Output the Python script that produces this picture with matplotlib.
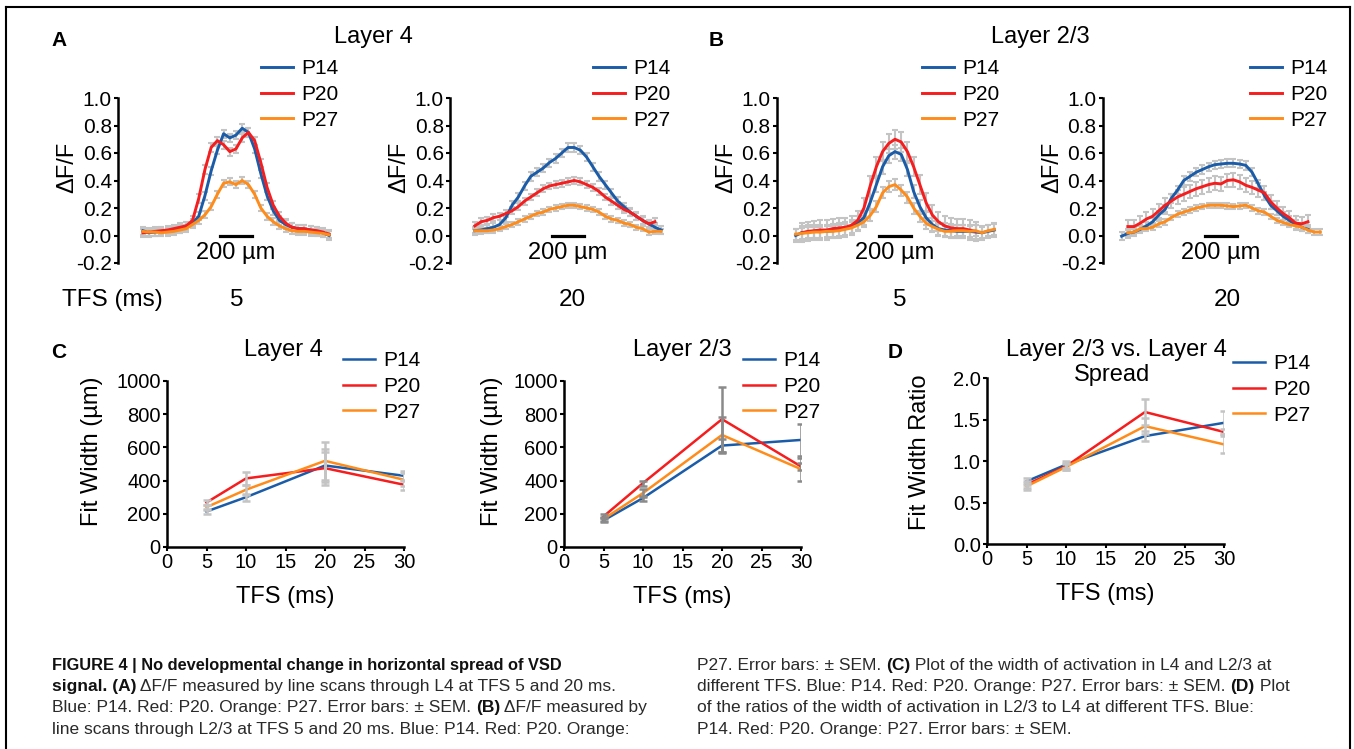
import numpy as np
import matplotlib
matplotlib.use("Agg")
from matplotlib import pyplot as plt
from matplotlib import font_manager
from matplotlib.lines import Line2D

W, H = 1354, 749

names = {f.name for f in font_manager.fontManager.ttflist}
SANS = 'Liberation Sans' if 'Liberation Sans' in names else 'DejaVu Sans'
NARROW = 'Liberation Sans Narrow' if 'Liberation Sans Narrow' in names else SANS

plt.rcParams['font.family'] = [SANS, 'DejaVu Sans']
plt.rcParams['axes.unicode_minus'] = False

#--- data -------------------------------------------------------------
ages = ['P14', 'P20', 'P27']
COLORS = ['#1b5ca8', '#f51d1d', '#ff8c1a']

# line scan positions (um), 0 = centre of the scale bar
pos_A = np.arange(-600, 601, 40)
pos_B = np.arange(-640, 641, 40)
nan = np.nan

# A: layer 4, TFS 5 ms
l4_tfs5_p14 = [0.035, 0.02, 0.025, 0.03, 0.035, 0.04, 0.05, 0.07, 0.09, 0.14,
               0.29, 0.47, 0.62, 0.74, 0.71, 0.73, 0.78, 0.75, 0.63, 0.45,
               0.29, 0.18, 0.11, 0.08, 0.06, 0.05, 0.045, 0.04, 0.03, 0.02, 0.0]
l4_tfs5_p20 = [0.02, 0.025, 0.03, 0.035, 0.04, 0.05, 0.06, 0.07, 0.11, 0.27,
               0.48, 0.64, 0.69, 0.66, 0.61, 0.63, 0.71, 0.75, 0.69, 0.53,
               0.35, 0.22, 0.14, 0.09, 0.06, 0.05, 0.05, 0.04, 0.035, 0.025, 0.01]
l4_tfs5_p27 = [0.03, 0.025, 0.025, 0.02, 0.025, 0.03, 0.04, 0.05, 0.08, 0.11,
               0.15, 0.21, 0.30, 0.38, 0.39, 0.37, 0.40, 0.37, 0.30, 0.20,
               0.14, 0.10, 0.07, 0.05, 0.035, 0.03, 0.03, 0.025, 0.02, 0.015, 0.005]
# A: layer 4, TFS 20 ms
l4_tfs20_p14 = [0.035, 0.04, 0.05, 0.06, 0.08, 0.13, 0.22, 0.28, 0.36, 0.43,
                0.46, 0.49, 0.53, 0.56, 0.60, 0.64, 0.64, 0.62, 0.57, 0.50,
                0.43, 0.37, 0.31, 0.25, 0.21, 0.17, 0.14, 0.11, 0.085, 0.06, 0.04]
l4_tfs20_p20 = [0.07, 0.10, 0.11, 0.13, 0.14, 0.16, 0.18, 0.21, 0.25, 0.28,
                0.31, 0.34, 0.36, 0.37, 0.38, 0.39, 0.40, 0.39, 0.37, 0.35,
                0.32, 0.28, 0.25, 0.22, 0.19, 0.17, 0.14, 0.11, 0.085, 0.10, nan]
l4_tfs20_p27 = [0.035, 0.035, 0.035, 0.04, 0.05, 0.065, 0.08, 0.10, 0.12, 0.14,
                0.16, 0.17, 0.19, 0.20, 0.21, 0.22, 0.22, 0.21, 0.20, 0.19,
                0.17, 0.14, 0.12, 0.11, 0.09, 0.08, 0.06, 0.05, 0.025, 0.03, 0.03]
# B: layer 2/3, TFS 5 ms
l23_tfs5_p14 = [0.0, 0.02, 0.025, 0.03, 0.03, 0.03, 0.035, 0.04, 0.05, 0.065,
                0.09, 0.13, 0.24, 0.37, 0.50, 0.58, 0.61, 0.59, 0.48, 0.32,
                0.21, 0.13, 0.08, 0.05, 0.04, 0.035, 0.03, 0.03, 0.03, 0.025,
                0.02, 0.03, 0.04]
l23_tfs5_p20 = [nan, 0.02, 0.03, 0.035, 0.04, 0.04, 0.05, 0.055, 0.06, 0.075,
                0.11, 0.20, 0.36, 0.50, 0.61, 0.67, 0.70, 0.68, 0.61, 0.50,
                0.37, 0.24, 0.15, 0.10, 0.07, 0.055, 0.05, 0.05, 0.04, 0.03,
                nan, nan, nan]
l23_tfs5_p27 = [0.01, 0.015, 0.02, 0.025, 0.025, 0.03, 0.03, 0.035, 0.045, 0.055,
                0.075, 0.10, 0.145, 0.21, 0.31, 0.355, 0.37, 0.33, 0.28, 0.20,
                0.14, 0.09, 0.065, 0.045, 0.03, 0.03, 0.035, 0.035, 0.03, 0.035,
                0.02, 0.035, 0.045]
# B: layer 2/3, TFS 20 ms
l23_tfs20_p14 = [-0.005, 0.015, 0.025, 0.045, 0.07, 0.10, 0.15, 0.19, 0.27, 0.33,
                 0.40, 0.43, 0.46, 0.48, 0.50, 0.515, 0.52, 0.525, 0.525, 0.52,
                 0.51, 0.46, 0.375, 0.29, 0.22, 0.18, 0.14, 0.11, 0.08, 0.06,
                 0.045, nan, nan]
l23_tfs20_p20 = [nan, 0.065, 0.065, 0.09, 0.12, 0.14, 0.18, 0.22, 0.25, 0.28,
                 0.30, 0.32, 0.34, 0.355, 0.37, 0.38, 0.375, 0.40, 0.405, 0.39,
                 0.365, 0.35, 0.33, 0.31, 0.245, 0.20, 0.16, 0.13, 0.09, 0.085,
                 0.10, nan, nan]
l23_tfs20_p27 = [nan, 0.02, 0.025, 0.05, 0.05, 0.06, 0.085, 0.10, 0.13, 0.155,
                 0.17, 0.185, 0.20, 0.21, 0.22, 0.22, 0.22, 0.215, 0.21, 0.215,
                 0.22, 0.20, 0.18, 0.17, 0.14, 0.11, 0.095, 0.08, 0.07, 0.06,
                 0.04, 0.025, 0.025]

# SEM of each trace (P14, P20, P27)
sem_l4_tfs5 = [0.03, 0.03, 0.025]
sem_l4_tfs20 = [0.03, 0.025, 0.02]
sem_l23_tfs5 = [0.05, 0.07, 0.04]
sem_l23_tfs20 = [0.03, 0.05, 0.02]

# C / D
tfs = [5, 10, 20, 30]
l4_width = {'P14': [214, 300, 491, 429], 'P20': [268, 413, 475, 375], 'P27': [240, 345, 519, 405]}
l4_width_sem = {'P14': [15, 20, 100, 30], 'P20': [15, 40, 100, 30], 'P27': [15, 30, 116, 40]}
l23_width = {'P14': [160, 295, 611, 645], 'P20': [184, 385, 770, 485], 'P27': [168, 325, 675, 469]}
l23_width_sem = {'P14': [12, 15, 40, 95], 'P20': [12, 15, 195, 20], 'P27': [12, 25, 110, 70]}
ratio = {'P14': [0.755, 0.956, 1.30, 1.46], 'P20': [0.715, 0.936, 1.59, 1.35], 'P27': [0.695, 0.928, 1.42, 1.20]}
ratio_sem = {'P14': [0.04, 0.04, 0.06, 0.14], 'P20': [0.04, 0.04, 0.16, 0.03], 'P27': [0.04, 0.04, 0.10, 0.10]}

SCALE_UM = 200
LIGHT = '#c4c4c4'
DARK = '#8a8a8a'

fig = plt.figure(figsize=(W / 100, H / 100), dpi=100)
renderer = fig.canvas.get_renderer()


def box(left, top, right, bottom):
    return fig.add_axes([left / W, 1 - bottom / H, (right - left) / W, (bottom - top) / H])


def ftext(x, y, s, **kw):
    kw.setdefault('ha', 'center')
    kw.setdefault('va', 'center')
    return fig.text(x / W, 1 - y / H, s, **kw)


def rich_line(x, y, parts, fs):
    # parts: list of (text, bold), drawn one after the other on a shared baseline
    for s, bold in parts:
        t = ftext(x, y, s, ha='left', va='baseline', fontsize=fs, family=[NARROW, 'DejaVu Sans'],
                  fontweight='bold' if bold else 'normal',
                  color='#111111' if bold else '#2a2a2a')
        x += t.get_window_extent(renderer).width


def add_legend(ax, x, y, fs):
    ax.legend(loc='upper left', bbox_to_anchor=(x / W, 1 - y / H), bbox_transform=fig.transFigure,
              frameon=False, borderpad=0, borderaxespad=0, handlelength=1.55,
              handletextpad=0.4, labelspacing=0.33, fontsize=fs)


#--- A / B: line scans ---------------------------------------------------
scans = [
    (118, 261, pos_A, [l4_tfs5_p14, l4_tfs5_p20, l4_tfs5_p27], sem_l4_tfs5),
    (450, 593, pos_A, [l4_tfs20_p14, l4_tfs20_p20, l4_tfs20_p27], sem_l4_tfs20),
    (777, 922, pos_B, [l23_tfs5_p14, l23_tfs5_p20, l23_tfs5_p27], sem_l23_tfs5),
    (1103, 1250, pos_B, [l23_tfs20_p14, l23_tfs20_p20, l23_tfs20_p27], sem_l23_tfs20),
]
for left, leg_x, pos, traces, sems in scans:
    ax = box(left, 98, left + 236, 263)
    for vals, e in zip(traces, sems):
        ax.errorbar(pos, vals, yerr=e, fmt='none', ecolor=LIGHT, elinewidth=1.5,
                    capsize=2, capthick=1.5, zorder=1)
    for vals, col, lab in zip(traces, COLORS, ages):
        ax.plot(pos, vals, color=col, lw=2.1, label=lab, zorder=3)
    ax.plot([-SCALE_UM / 2, SCALE_UM / 2], [0, 0], color='black', lw=2.3, zorder=4)
    ax.text(0, -0.125, '200 µm', ha='center', va='center', fontsize=17)
    ax.set_xlim(-760, 760)
    ax.set_ylim(-0.2, 1.0)
    ax.set_xticks([])
    ax.set_yticks([-0.2, 0.0, 0.2, 0.4, 0.6, 0.8, 1.0])
    ax.set_yticklabels(['-0.2', '0.0', '0.2', '0.4', '0.6', '0.8', '1.0'])
    ax.tick_params(axis='y', direction='out', length=3, width=1.5, pad=1.5, labelsize=15)
    for s in ['top', 'right', 'bottom']:
        ax.spines[s].set_visible(False)
    ax.spines['left'].set_linewidth(1.8)
    ax.patch.set_alpha(0)
    ax.set_ylabel('ΔF/F', fontsize=17)
    ax.yaxis.label.set_va('center')
    ax.yaxis.set_label_coords(-0.215, 0.58)
    add_legend(ax, leg_x, 59, 15)

ftext(59, 40, 'A', fontsize=15, fontweight='bold')
ftext(716, 40, 'B', fontsize=15, fontweight='bold')
ftext(373, 37, 'Layer 4', fontsize=17)
ftext(1040, 37, 'Layer 2/3', fontsize=17)
ftext(112, 300, 'TFS (ms)', fontsize=17.5)
for x, s in [(237, '5'), (572, '20'), (900, '5'), (1227, '20')]:
    ftext(x, 300, s, fontsize=17.5)

#--- C / D: widths --------------------------------------------------------
summary = [
    ((167, 381, 404, 547), l4_width, l4_width_sem, LIGHT, [0, 200, 400, 600, 800, 1000],
     (0, 1000), 'Fit Width (µm)', (-0.316, 0.578), (343, 351)),
    ((564, 381, 801, 547), l23_width, l23_width_sem, DARK, [0, 200, 400, 600, 800, 1000],
     (0, 1000), 'Fit Width (µm)', (-0.304, 0.578), (743, 351)),
    ((987, 378, 1224, 544), ratio, ratio_sem, LIGHT, [0.0, 0.5, 1.0, 1.5, 2.0],
     (0, 2.0), 'Fit Width Ratio', (-0.283, 0.554), (1233, 354)),
]
for rect, vals, sems, ecol, yt, ylim, ylab, ylab_xy, leg_xy in summary:
    ax = box(*rect)
    for age, col in zip(ages, COLORS):
        ax.plot(tfs, vals[age], color=col, lw=1.8, label=age, zorder=2)
    for age in ages:
        ax.errorbar(tfs, vals[age], yerr=sems[age], fmt='none', ecolor=ecol,
                    elinewidth=1.8, capsize=3.2, capthick=1.8, zorder=3)
    ax.set_xlim(0, 30)
    ax.set_ylim(*ylim)
    ax.set_xticks([0, 5, 10, 15, 20, 25, 30])
    ax.set_yticks(yt)
    if ylim[1] == 2.0:
        ax.set_yticklabels(['%.1f' % v for v in yt])
    ax.tick_params(direction='out', length=3, width=1.5, pad=1.5, labelsize=14.5)
    for s in ['top', 'right']:
        ax.spines[s].set_visible(False)
    for s in ['left', 'bottom']:
        ax.spines[s].set_linewidth(1.8)
    ax.patch.set_alpha(0)
    ax.set_ylabel(ylab, fontsize=17)
    ax.yaxis.label.set_va('center')
    ax.yaxis.set_label_coords(*ylab_xy)
    ax.set_xlabel('TFS (ms)', fontsize=17)
    ax.xaxis.label.set_va('center')
    ax.xaxis.set_label_coords(0.5, -0.30)
    add_legend(ax, leg_xy[0], leg_xy[1], 15)

ftext(59, 352, 'C', fontsize=15, fontweight='bold')
ftext(895, 352, 'D', fontsize=15, fontweight='bold')
ftext(283, 350, 'Layer 4', fontsize=17)
ftext(682, 350, 'Layer 2/3', fontsize=17)
ftext(1116, 350, 'Layer 2/3 vs. Layer 4', fontsize=17)
ftext(1112, 375, 'Spread', fontsize=17)

#--- caption --------------------------------------------------------------
cap_left = [
    [("signal. (A)", True), (" ΔF/F measured by line scans through L4 at TFS 5 and 20 ms.", False)],
    [("Blue: P14. Red: P20. Orange: P27. Error bars: ± SEM. ", False), ("(B)", True),
     (" ΔF/F measured by", False)],
    [("line scans through L2/3 at TFS 5 and 20 ms. Blue: P14. Red: P20. Orange:", False)],
]
cap_right = [
    [("P27. Error bars: ± SEM. ", False), ("(C)", True),
     (" Plot of the width of activation in L4 and L2/3 at", False)],
    [("different TFS. Blue: P14. Red: P20. Orange: P27. Error bars: ± SEM. ", False), ("(D)", True),
     (" Plot", False)],
    [("of the ratios of the width of activation in L2/3 to L4 at different TFS. Blue:", False)],
    [("P14. Red: P20. Orange: P27. Error bars: ± SEM.", False)],
]
baselines = [670, 691, 712, 734]
CAP_FS = 12.5
ftext(52, baselines[0], 'FIGURE 4 | No developmental change in horizontal spread of VSD',
      ha='left', va='baseline', fontsize=11.8, fontweight='bold',
      family=[NARROW, 'DejaVu Sans'], color='#111111')
for y, parts in zip(baselines[1:], cap_left):
    rich_line(52, y, parts, CAP_FS)
for y, parts in zip(baselines, cap_right):
    rich_line(697, y, parts, CAP_FS)

# frame
for (x0, y0, x1, y1) in [(6, 7, 1350, 7), (6, 7, 6, 749), (1350, 7, 1350, 749)]:
    fig.add_artist(Line2D([x0 / W, x1 / W], [1 - y0 / H, 1 - y1 / H], color='black', lw=1.5))

fig.savefig('out.png', dpi=100)
